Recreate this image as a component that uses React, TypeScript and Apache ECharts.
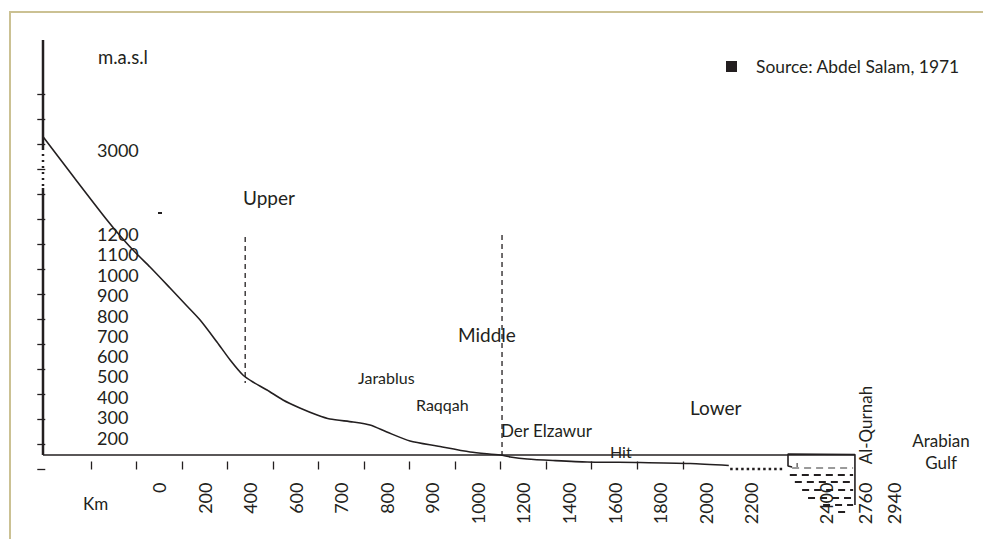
import React, { useEffect, useRef } from "react";
import * as echarts from "echarts";

const FONT = "Lato, 'Open Sans', sans-serif";
const INK = "#231f20";
const SOURCE = "Source: Abdel Salam, 1971";

// x axis in schematic "slots" (one slot per tick mark, the km scale of the drawing is not linear)
const xTickSlots = [1, 2, 3, 4, 5, 6, 7, 8, 9, 10, 11, 12, 13, 14];
const xTickLabels = ["0", "200", "400", "600", "700", "800", "900", "1000", "1200", "1400", "1600", "1800", "2000", "2200", "2400", "2760", "2940"];
const xLabelSlots = [2.5, 3.5, 4.5, 5.5, 6.5, 7.5, 8.5, 9.5, 10.5, 11.5, 12.5, 13.5, 14.5, 15.5, 17.14, 18.0, 18.64];

// y axis in schematic "levels" (one level per tick mark, broken above 1200 m)
const yTickLevels = [0, 1, 2, 3, 4, 5, 6, 7, 8, 9, 10, 11, 12, 13, 14, 15];
const yTickLabels = ["200", "300", "400", "500", "600", "700", "800", "900", "1000", "1100", "1200", "3000"];
const yLabelLevels = [1.26, 2.1, 2.9, 3.74, 4.54, 5.34, 6.14, 6.98, 7.78, 8.62, 9.42, 12.78];

// river profile [slot, level]
const profile: number[][] = [
  [-0.04, 13.29], [0.65, 11.64], [1.355, 9.98], [1.685, 9.26], [2.01, 8.62], [2.3, 8.1],
  [2.74, 7.26], [3.07, 6.62], [3.4, 5.98], [3.77, 5.1], [4.06, 4.38], [4.34, 3.78],
  [4.56, 3.5], [4.87, 3.18], [5.22, 2.78], [5.59, 2.46], [5.97, 2.18], [6.25, 2.02],
  [6.76, 1.9], [7.13, 1.78], [7.5, 1.5], [8.01, 1.14], [8.6, 0.94], [9.33, 0.7],
  [9.99, 0.58], [10.21, 0.5], [10.58, 0.42], [11.15, 0.36], [11.9, 0.3], [13.06, 0.28],
  [14.16, 0.24], [15.01, 0.16],
];
const profileDotted: number[][] = [[15.04, 0.02], [16.2, 0.02]];

const baseLevel = 0.58;
const axisSlot = -0.05;
const axisTop = 17.18;
const axisBreak = [12.86, 11.26];
const baseline: number[][] = [[axisSlot, baseLevel], [17.78, baseLevel]];

const upperBoundary: number[][] = [[4.39, 9.3], [4.39, 3.46]];
const middleBoundary: number[][] = [[10.03, 9.38], [10.03, 0.38]];

const estuaryBox: number[][] = [[16.4, 0.1], [16.31, 0.14], [16.31, 0.62], [17.78, 0.6], [17.78, -1.42]];
const estuaryTick: number[][] = [[16.51, 0.26], [16.51, 0.1]];

// gulf water wedge rows: [left slot, right slot, level]
const seaRows: number[][] = [
  [16.4, 17.74, 0.06],
  [16.35, 17.74, -0.22],
  [16.46, 17.74, -0.5],
  [16.62, 17.74, -0.82],
  [16.75, 17.74, -1.14],
  [17.08, 17.74, -1.42],
  [17.41, 17.67, -1.7],
];

const lookup = (keys: number[], labels: string[]) => (v: number) => {
  const i = keys.findIndex((k) => Math.abs(k - v) < 1e-6);
  return i >= 0 ? labels[i] : "";
};

const plainLine = (name: string, data: number[][], style: any) => ({
  type: "line",
  name,
  data,
  symbol: "none",
  showSymbol: false,
  clip: false,
  silent: true,
  lineStyle: { color: INK, ...style },
  z: 3,
});

const txt = (text: string, x: number, y: number, size: number, align = "left", extra: any = {}) => ({
  type: "text",
  x,
  y,
  silent: true,
  ...extra,
  style: { text, fontFamily: FONT, fontSize: size, fill: INK, align, verticalAlign: "middle" },
});

export default function App() {
  const ref = useRef<HTMLDivElement>(null);
  useEffect(() => {
    const chart = echarts.init(ref.current!, null, { renderer: "svg" });
    const option: any = {
      animation: false,
      backgroundColor: "#fff",
      grid: { left: 43, top: 40, right: 42.9, bottom: 69.5 },
      legend: {
        left: 726,
        top: 56.5,
        padding: 0,
        itemWidth: 11,
        itemHeight: 11,
        selectedMode: false,
        data: [{ name: SOURCE, icon: "rect", itemStyle: { color: INK } }],
        textStyle: { fontFamily: FONT, fontSize: 17.4, color: INK, lineHeight: 20, padding: [0, 0, 0, 14] },
      },
      xAxis: {
        type: "value",
        min: axisSlot,
        max: 19.65,
        axisLine: { show: false },
        splitLine: { show: false },
        axisTick: { show: true, inside: true, length: 8, customValues: xTickSlots, lineStyle: { color: INK, width: 1.3 } },
        axisLabel: {
          show: true,
          rotate: 90,
          margin: 13,
          customValues: xLabelSlots,
          formatter: lookup(xLabelSlots, xTickLabels),
          fontFamily: FONT,
          fontSize: 18,
          color: INK,
        },
      },
      yAxis: {
        type: "value",
        min: 0,
        max: axisTop,
        axisLine: { show: false },
        splitLine: { show: false },
        axisTick: { show: true, length: 8, customValues: yTickLevels, lineStyle: { color: INK, width: 1.3 } },
        axisLabel: {
          show: true,
          inside: true,
          margin: 54,
          customValues: yLabelLevels,
          formatter: lookup(yLabelLevels, yTickLabels),
          fontFamily: FONT,
          fontSize: 18,
          color: INK,
        },
      },
      series: [
        { ...plainLine(SOURCE, profile, { width: 1.6 }), smooth: 0.25, itemStyle: { color: INK } },
        plainLine("dotted", profileDotted, { width: 2.5, type: [2.5, 3] }),
        plainLine("baseline", baseline, { width: 1.4 }),
        plainLine("axisTop", [[axisSlot, axisTop], [axisSlot, axisBreak[0]]], { width: 2.5 }),
        plainLine("axisBreak", [[axisSlot, axisBreak[0]], [axisSlot, axisBreak[1]]], { width: 2.5, type: [2, 4] }),
        plainLine("axisLow", [[axisSlot, axisBreak[1]], [axisSlot, baseLevel]], { width: 2.5 }),
        plainLine("upperB", upperBoundary, { width: 1.3, type: [5, 4] }),
        plainLine("middleB", middleBoundary, { width: 1.3, type: [5, 4] }),
        plainLine("box", estuaryBox, { width: 1.6 }),
        plainLine("boxTick", estuaryTick, { width: 1 }),
        ...seaRows.map((r, i) =>
          plainLine("sea" + i, [[r[0], r[2]], [r[1], r[2]]], {
            width: 2,
            type: [7, 5],
            color: i === 0 ? "#9a9a9a" : INK,
          })
        ),
      ],
      graphic: [
        { type: "rect", silent: true, shape: { x: 10, y: 12, width: 1000, height: 1000 }, style: { fill: "none", stroke: "#cbc193", lineWidth: 2 } },
        { type: "rect", silent: true, shape: { x: 158, y: 212, width: 4, height: 2 }, style: { fill: INK } },
        txt("m.a.s.l", 98, 57, 18.5),
        txt("Upper", 243, 197, 19),
        txt("Middle", 458, 334, 19),
        txt("Lower", 690, 407, 19),
        txt("Jarablus", 358, 377, 16),
        txt("Raqqah", 416, 404, 16),
        txt("Der Elzawur", 501, 430, 17),
        txt("Hit", 610, 451, 16),
        txt("Km", 83, 503, 17),
        txt("Arabian", 941, 440, 17, "center"),
        txt("Gulf", 941, 462, 17, "center"),
        txt("Al-Qurnah", 865, 425, 17, "center", { rotation: Math.PI / 2 }),
      ],
    };
    chart.setOption(option);
    return () => chart.dispose();
  }, []);
  return (
    <div
      ref={ref}
      style={{ position: "fixed", left: 0, top: 0, width: 983, height: 539, background: "#fff" }}
    />
  );
}
